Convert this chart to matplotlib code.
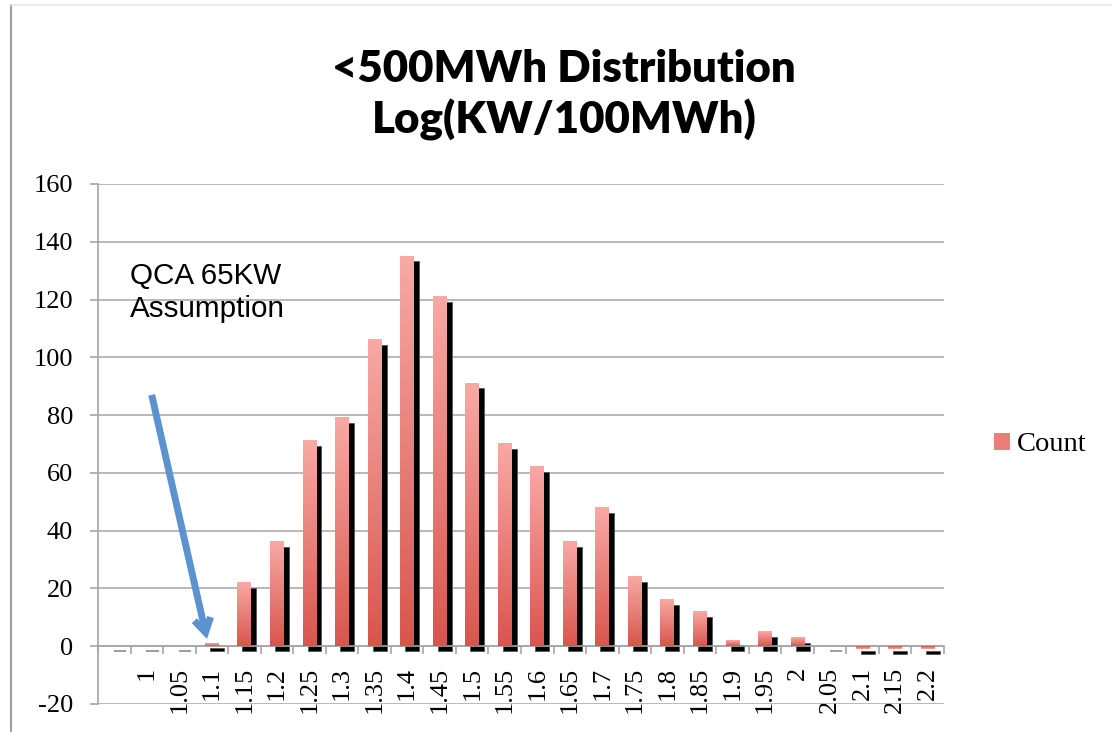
import numpy as np
import matplotlib.pyplot as plt
from matplotlib.colors import LinearSegmentedColormap
from matplotlib.patches import Rectangle, Patch
from matplotlib.lines import Line2D

plt.rcParams["axes.unicode_minus"] = False

# data
categories = ["", "1", "1.05", "1.1", "1.15", "1.2", "1.25", "1.3", "1.35", "1.4",
              "1.45", "1.5", "1.55", "1.6", "1.65", "1.7", "1.75", "1.8", "1.85",
              "1.9", "1.95", "2", "2.05", "2.1", "2.15", "2.2"]
counts = [0, 0, 0, 1, 22, 36, 71, 79, 106, 135, 121, 91, 70, 62, 36, 48, 24, 16,
          12, 2, 5, 3, 0, -1, -1, -1]
y_ticks = [-20, 0, 20, 40, 60, 80, 100, 120, 140, 160]

title = "<500MWh Distribution\nLog(KW/100MWh)"
note = "QCA 65KW\nAssumption"
note_xy = (0.48, 133)
arrow_tail = (1.15, 87)
arrow_tip = (2.85, 2.5)

TOP = "#F9A9A4"
BOTTOM = "#D8554E"
GRID = "#A6A6A6"
BLUE = "#5A93CF"

fig = plt.figure(figsize=(11.12, 7.32), dpi=100)
ax = fig.add_axes([98 / 1112, 1 - 704 / 732, 846 / 1112, 520 / 732])

x = np.arange(len(categories))
w = 0.43
# shadow offset ~5px in both directions
dx = 5 / 32.55
dy = 5 / 2.889

cmap = LinearSegmentedColormap.from_list("bar", [BOTTOM, TOP])
grad = np.linspace(0, 1, 256).reshape(-1, 1)

for xi, v in zip(x, counts):
    if v == 0:
        ax.plot([xi - w / 2 + dx + 0.05, xi + w / 2 + dx], [-dy, -dy], color="#8C8C8C",
                lw=1.2, zorder=2, solid_capstyle="butt")
        continue
    lo, hi = min(0, v), max(0, v)
    ax.add_patch(Rectangle((xi - w / 2 + dx, lo - dy), w, hi - lo, facecolor="black",
                           edgecolor="#555555", lw=0.6, zorder=2))
    img = grad if v > 0 else grad[::-1]
    ax.imshow(img, cmap=cmap, aspect="auto", origin="lower", interpolation="bilinear",
              extent=(xi - w / 2, xi + w / 2, lo, hi), zorder=3)

ax.set_xlim(-0.5, len(categories) - 0.5)
ax.set_ylim(-20, 160)
ax.set_yticks(y_ticks)
ax.yaxis.grid(True, color=GRID, lw=1.1)
ax.set_axisbelow(True)

for s in ["top", "right"]:
    ax.spines[s].set_visible(False)
ax.spines["left"].set_color(GRID)
ax.spines["left"].set_linewidth(1.2)
ax.spines["bottom"].set_position(("data", 0))
ax.spines["bottom"].set_color(GRID)
ax.spines["bottom"].set_linewidth(1.2)

ax.set_xticks(x)
ax.set_xticklabels(categories, rotation=90, va="top", ha="center")
ax.set_xticks(np.arange(len(categories) + 1) - 0.5, minor=True)
ax.tick_params(axis="x", which="major", length=0, pad=15)
ax.tick_params(axis="x", which="minor", length=6, color=GRID, width=1.2)
ax.tick_params(axis="y", length=6, color=GRID, width=1.2, pad=12)
for lab in ax.get_xticklabels() + ax.get_yticklabels():
    lab.set_fontfamily("Liberation Serif")
    lab.set_fontsize(19)

fig.text(564 / 1112, 1 - 95 / 732, title, ha="center", va="center",
         fontfamily="Lato", fontweight="heavy", fontsize=31.5, linespacing=1.3)

ax.text(*note_xy, note, ha="left", va="top", fontfamily="Liberation Sans",
        fontsize=21.3, linespacing=1.25, zorder=5)

ax.annotate("", xy=arrow_tip, xytext=arrow_tail,
            arrowprops=dict(arrowstyle="->,head_length=1.0,head_width=0.6",
                            color=BLUE, lw=5, shrinkA=0, shrinkB=0,
                            joinstyle="miter", capstyle="butt"), zorder=6)

fig.legend(handles=[Patch(facecolor="#EC7E78", edgecolor="none")], labels=["Count"],
           loc="center left", bbox_to_anchor=(994 / 1112, 1 - 445 / 732),
           frameon=False, prop={"family": "Liberation Serif", "size": 20.5},
           handlelength=0.55, handleheight=0.55, handletextpad=0.25, borderpad=0,
           borderaxespad=0)

# chart border
fig.add_artist(Line2D([11 / 1112, 11 / 1112], [0, 1 - 5 / 732], color="#A0A0A0", lw=1.5))
fig.add_artist(Line2D([11 / 1112, 1], [1 - 5 / 732, 1 - 5 / 732], color="#E6E6E6", lw=1.2))

fig.savefig("out.png", dpi=100)
